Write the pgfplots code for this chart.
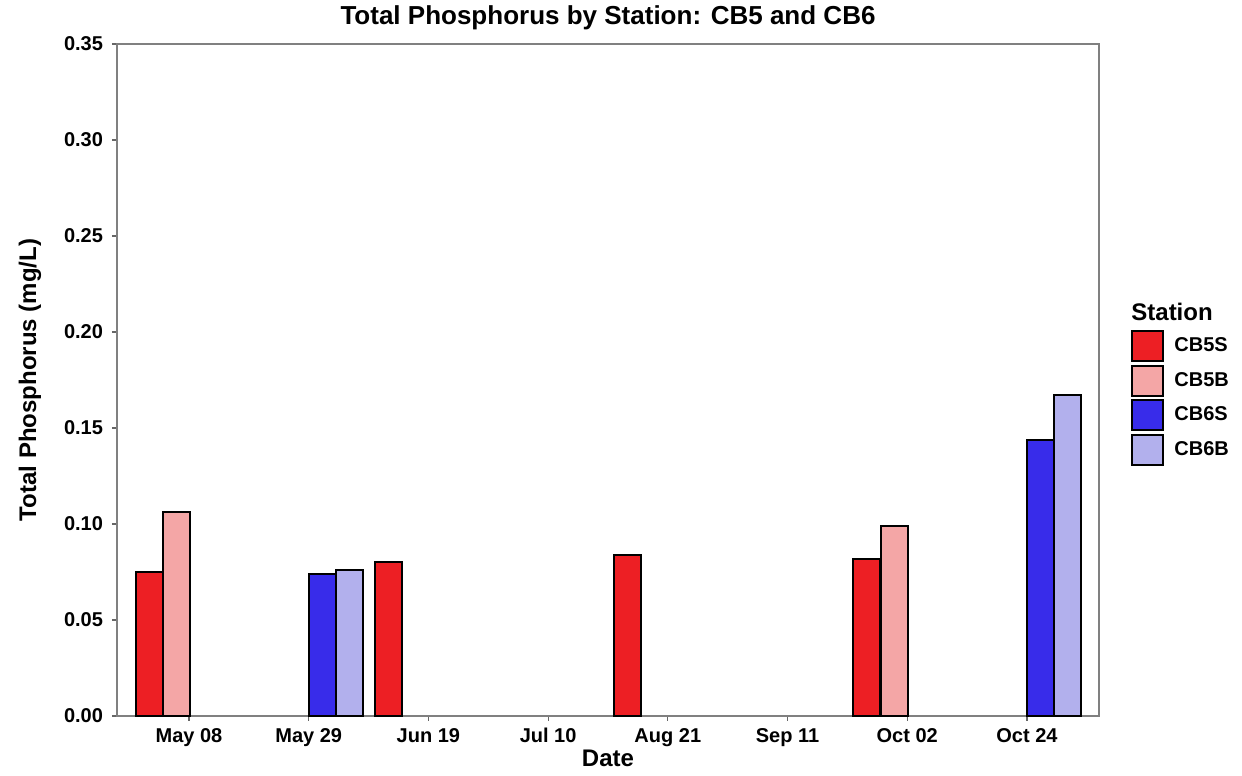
\documentclass[border=0pt]{standalone}
\usepackage{pgfplots}
\pgfplotsset{compat=1.18}
\usepackage{fontspec}
\setmainfont{Liberation Sans}

\definecolor{cbfives}{RGB}{237,31,36}
\definecolor{cbfiveb}{RGB}{244,166,166}
\definecolor{cbsixs}{RGB}{56,44,234}
\definecolor{cbsixb}{RGB}{178,176,237}

% Bar centres are in tick units (tick i = i); widths in the same units
\pgfplotsset{
  stationbar/.style={
    ybar, bar width=0.2256, bar shift=0pt,
    draw=black, line width=1bp, fill=#1,
    legend image code/.code={\draw[##1] (0bp,-7.5bp) rectangle (15.5bp,7.5bp);}
  }
}

\begin{document}
\begin{tikzpicture}
\useasboundingbox (-58.5bp,-30bp) rectangle (562.5bp,358bp);
\begin{axis}[
  scale only axis, width=491bp, height=336bp,
  clip=false,
  xmin=-0.6015, xmax=7.602, ymin=0, ymax=0.35,
  xtick={0,1,2,3,4,5,6,7},
  xticklabels={May 08, May 29, Jun 19, Jul 10, Aug 21, Sep 11, Oct 02, Oct 24},
  ytick={0,0.05,0.1,0.15,0.2,0.25,0.3,0.35},
  yticklabel style={/pgf/number format/fixed, /pgf/number format/fixed zerofill,
    /pgf/number format/precision=2, xshift=-1bp},
  /pgf/number format/assume math mode=true,
  tick label style={font=\bfseries\fontsize{10bp}{12bp}\selectfont, text=black},
  tick align=outside, major tick length=2.5bp,
  xtick pos=left, ytick pos=left,
  axis line style={draw=black!50, line width=0.6bp},
  major tick style={draw=black!60, line width=0.6bp},
  every axis title shift=0pt,
  title={Total Phosphorus by Station: CB5 and CB6},
  title style={font=\bfseries\fontsize{13bp}{15bp}\selectfont, at={(0.5,1.0387)}, anchor=center},
  xlabel={Date},
  xlabel style={font=\bfseries\fontsize{12bp}{14bp}\selectfont, at={(0.5,-0.0625)}, anchor=center},
  ylabel={Total Phosphorus (mg/L)},
  ylabel style={font=\bfseries\fontsize{12bp}{14bp}\selectfont, at={(-0.0886,0.5)}, anchor=center},
  legend style={draw=none, fill=none, at={(1,0.473)}, anchor=west, xshift=16bp,
    inner sep=0pt, row sep=1.25bp, column sep=3bp,
    font=\bfseries\fontsize{10bp}{12bp}\selectfont},
  legend cell align=left,
]
\addplot[stationbar=cbfives] coordinates {(-0.3325,0.075) (1.668,0.080) (3.667,0.084) (5.662,0.082)};
\addlegendentry{CB5S}
\addplot[stationbar=cbfiveb] coordinates {(-0.1065,0.106) (5.890,0.099)};
\addlegendentry{CB5B}
\addplot[stationbar=cbsixs] coordinates {(1.117,0.074) (7.111,0.144)};
\addlegendentry{CB6S}
\addplot[stationbar=cbsixb] coordinates {(1.342,0.076) (7.338,0.167)};
\addlegendentry{CB6B}
\node[anchor=west, inner sep=0pt, xshift=16bp, font=\bfseries\fontsize{12bp}{14bp}\selectfont]
  at (rel axis cs:1,0.6017) {Station};
\end{axis}
\end{tikzpicture}
\end{document}
